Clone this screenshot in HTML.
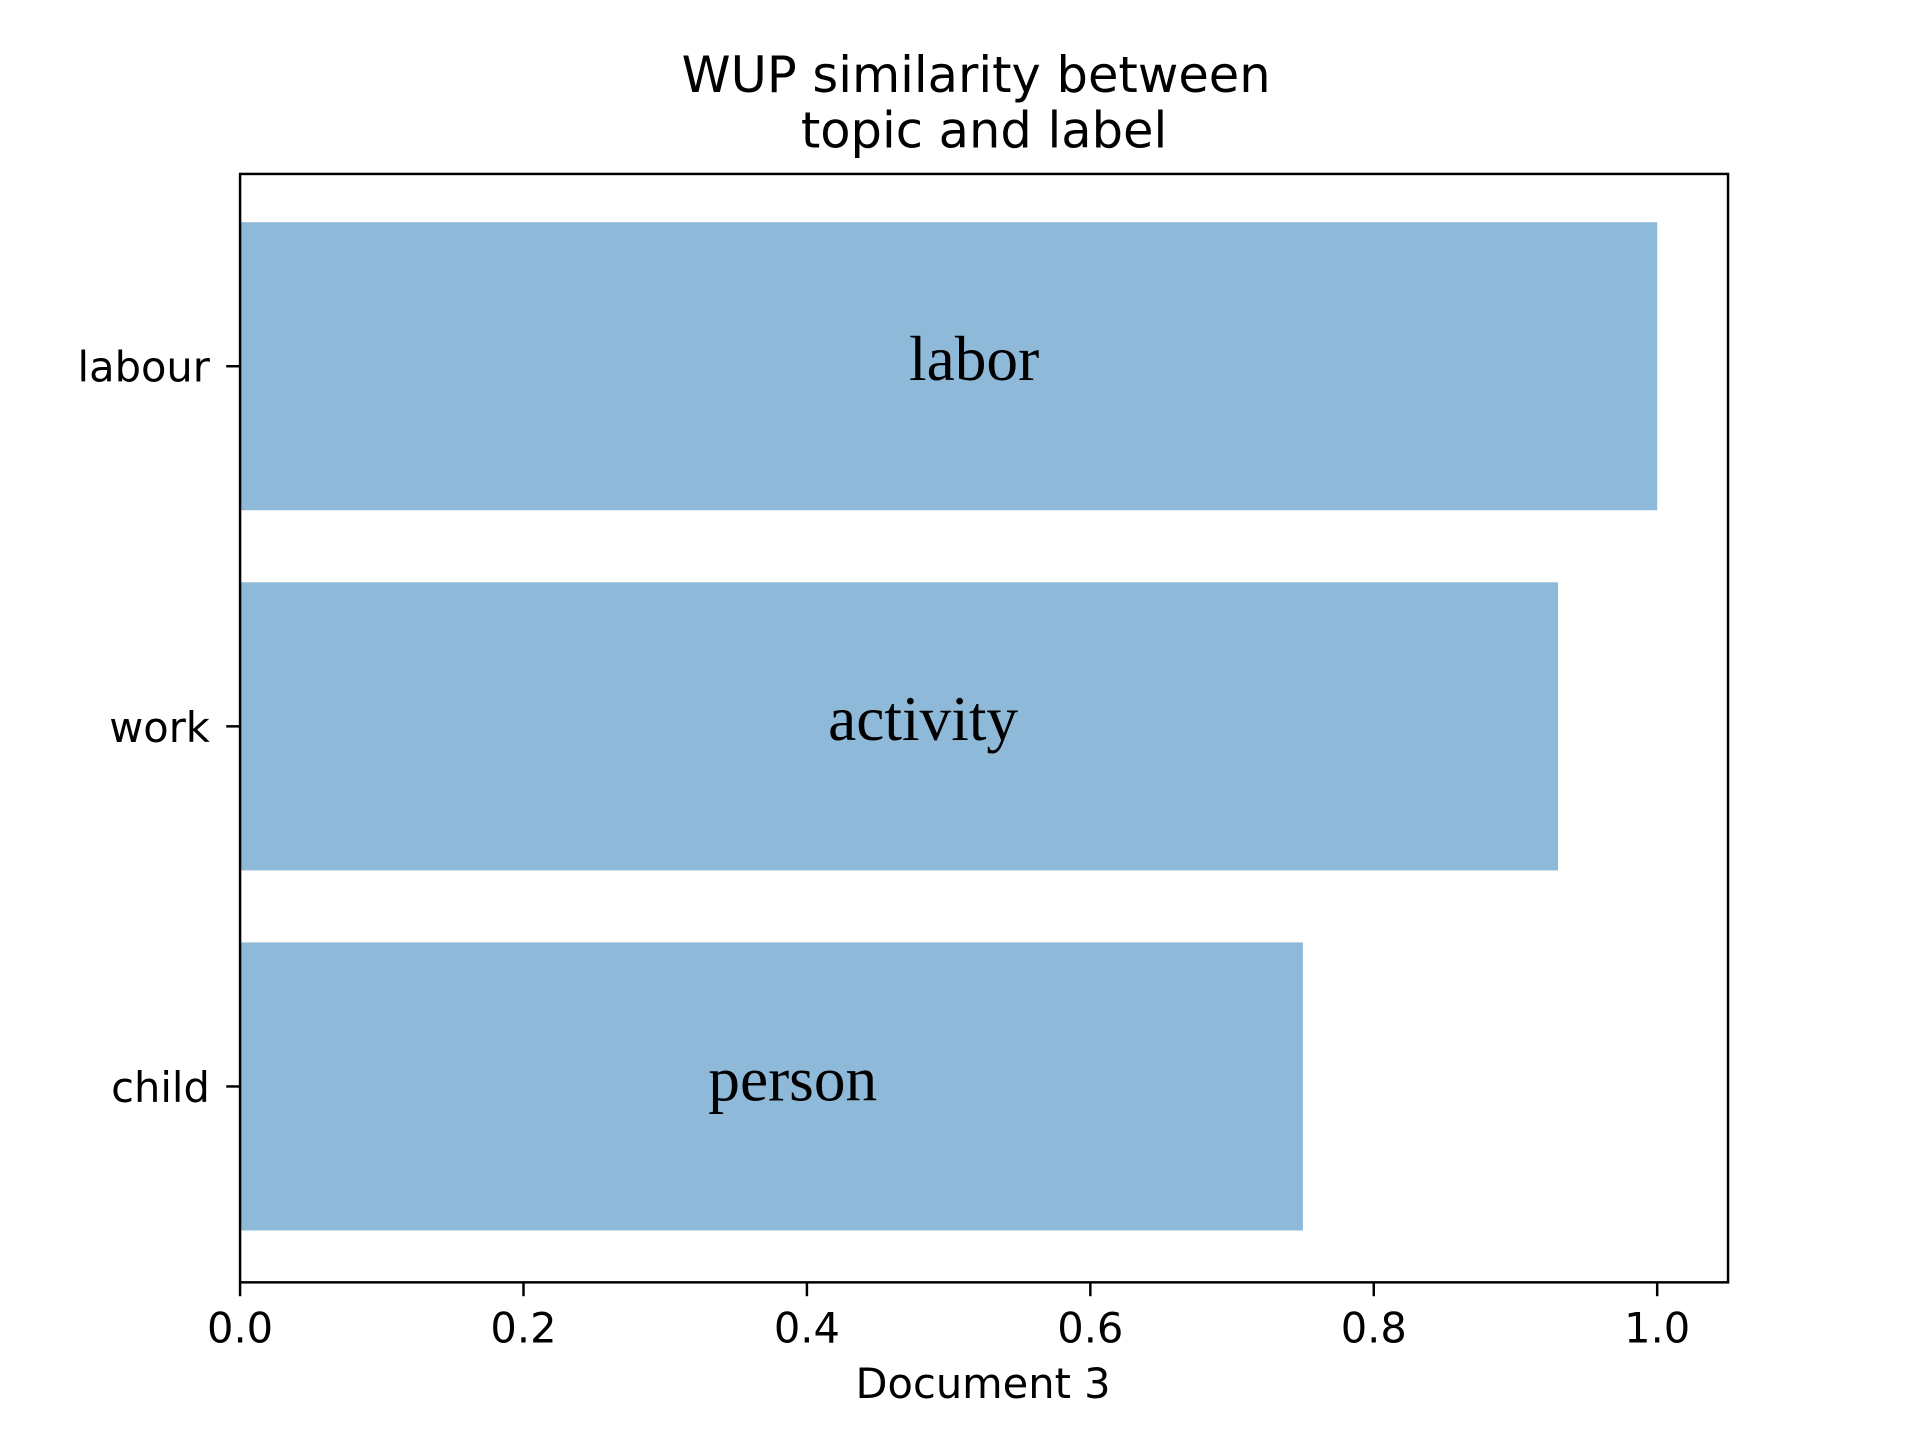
<!DOCTYPE html>
<html><head><meta charset="utf-8"><style>
html,body{margin:0;padding:0;background:#fff;}
svg{display:block;}
</style></head><body>
<svg id="chart" width="1920" height="1440" viewBox="0 0 1920 1440" xmlns="http://www.w3.org/2000/svg">
<g transform="scale(0.99)">
<g id="bars"></g>
<g id="axes"></g>
</g>
</svg>
<script>
const categories = ["child", "work", "labour"];
const values = [0.75, 0.93, 1.0];
const barLabels = ["person", "activity", "labor"];
const labelCenters = [0.39, 0.482, 0.518];
const xTicks = [0.0, 0.2, 0.4, 0.6, 0.8, 1.0];
const xTickLabels = ["0.0", "0.2", "0.4", "0.6", "0.8", "1.0"];

const L = 242.5, R = 1745.5, T = 175.7, B = 1295.3;
const xMin = 0, xMax = 1.05;
function xs(v){ return L + (v - xMin) / (xMax - xMin) * (R - L); }
const yTopVal = 2.534, yBotVal = -0.544;
function ys(i){ return T + (yTopVal - i) / (yTopVal - yBotVal) * (B - T); }
const barH = 0.8;
const NS = "http://www.w3.org/2000/svg";
function mk(tag, attrs, parent){ const e = document.createElementNS(NS, tag); for (const k in attrs) e.setAttribute(k, attrs[k]); parent.appendChild(e); return e; }

const bars = document.getElementById('bars');
const axes = document.getElementById('axes');
const unitPx = (B - T) / (yTopVal - yBotVal);

categories.forEach((c, i) => {
  const r = mk('rect', {x: xs(0), y: ys(i) - barH/2*unitPx, width: xs(values[i]) - xs(0), height: barH*unitPx, fill: '#8eb9d9'}, bars);
  
  
  const t = mk('text', {x: xs(labelCenters[i]), y: ys(i) + 14, 'text-anchor': 'middle', 'font-family': '"Liberation Serif", serif', 'font-size': 64, fill: '#000'}, bars);
  t.textContent = barLabels[i];
  
  
  const tk = mk('line', {x1: L - 14, x2: L, y1: ys(i), y2: ys(i), stroke: '#000', 'stroke-width': 2.5}, axes);
  
  
  const yl = mk('text', {x: 212, y: ys(i) + 1, 'text-anchor': 'end', 'dominant-baseline': 'central', 'font-family': '"DejaVu Sans", sans-serif', 'font-size': 42, fill: '#000'}, axes);
  yl.textContent = c;
  
  
});

xTicks.forEach((v, i) => {
  const tk = mk('line', {x1: xs(v), x2: xs(v), y1: B, y2: B + 14, stroke: '#000', 'stroke-width': 2.5}, axes);
  
  
  const tl = mk('text', {x: xs(v), y: 1356, 'text-anchor': 'middle', 'font-family': '"DejaVu Sans", sans-serif', 'font-size': 42, fill: '#000'}, axes);
  tl.textContent = xTickLabels[i];
  
  
});

const frame = mk('rect', {x: L, y: T, width: R - L, height: B - T, fill: 'none', stroke: '#000', 'stroke-width': 2.5}, axes);



const xl = mk('text', {x: 993, y: 1412, 'text-anchor': 'middle', 'font-family': '"DejaVu Sans", sans-serif', 'font-size': 42, fill: '#000'}, axes);
xl.textContent = 'Document 3';



const t1 = mk('text', {x: 986, y: 93, 'text-anchor': 'middle', 'font-family': '"DejaVu Sans", sans-serif', 'font-size': 50, fill: '#000'}, axes);
t1.textContent = 'WUP similarity between';


const t2 = mk('text', {x: 994, y: 149, 'text-anchor': 'middle', 'font-family': '"DejaVu Sans", sans-serif', 'font-size': 50, fill: '#000'}, axes);
t2.textContent = 'topic and label';


</script>
</body></html>
